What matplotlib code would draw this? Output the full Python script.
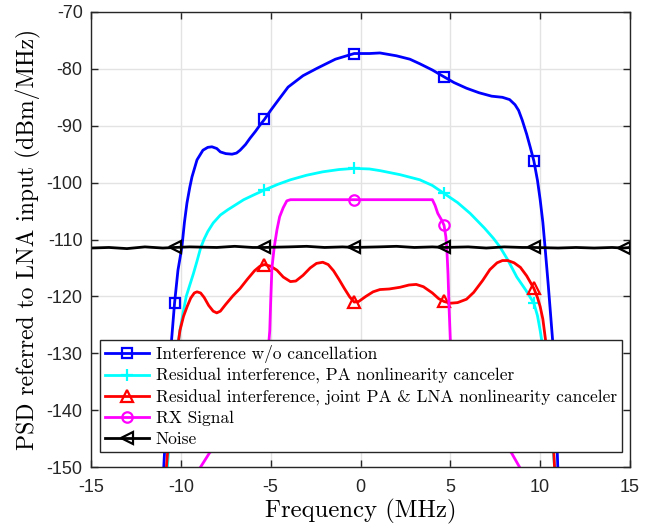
import matplotlib
matplotlib.use("Agg")
import matplotlib.pyplot as plt

# ---------------- data ----------------
blue_x = [-10.95, -10.75, -10.55, -10.35, -10.16, -9.94, -9.8, -9.66, -9.5, -9.38, -9.1, -8.77, -8.5, -8.27,
          -8.0, -7.8, -7.5, -7.15, -6.9, -6.7, -6.4, -6.15, -5.85, -5.6, -5.35, -5.0, -4.6, -4.03, -3.2,
          -2.42, -1.4, -0.35, 0.5, 1.08, 2.0, 2.75, 3.3, 4.0, 4.65, 5.2, 5.9, 6.6, 7.3, 7.9, 8.3, 8.6,
          8.8, 9.0, 9.25, 9.45, 9.65, 9.85, 10.0, 10.15, 10.27, 10.45, 10.6, 10.7, 10.85, 10.98]
blue_y = [-150, -138, -129, -121.2, -115.4, -111.3, -107, -103.6, -100.8, -99, -96, -94.3, -93.8, -93.7,
          -94.0, -94.6, -94.9, -95.0, -94.8, -94.3, -93.3, -92.2, -91.0, -89.9, -88.9, -87.3, -85.6, -83.2, -81.2,
          -79.9, -78.3, -77.3, -77.3, -77.2, -77.7, -78.3, -79.1, -80.2, -81.4, -82.4, -83.4, -84.2, -84.8, -85.0, -85.4, -86.3,
          -87.3, -89.0, -91.5, -93.8, -96.2, -99.6, -103, -107, -111.3, -118, -124, -128, -138, -150]

cyan_x = [-10.75, -10.55, -10.35, -10.2, -10.05, -9.85, -9.7, -9.5, -9.3, -9.1, -8.9, -8.7, -8.5, -8.2,
          -7.8, -7.4, -6.9, -6.5, -5.9, -5.35, -4.6, -3.9, -3.0, -2.1, -1.2, -0.35, 0.5, 1.1, 2.2, 3.3,
          4.0, 4.65, 5.4, 6.1, 6.9, 7.4, 7.76, 8.2, 8.7, 9.2, 9.65, 9.85, 10.0, 10.2, 10.4, 10.6, 10.8]
cyan_y = [-150, -142, -134, -129.5, -126, -122.5, -120, -118, -116, -113.8, -111.5, -109.9, -108.6, -107.1,
          -105.7, -104.8, -103.8, -103, -102.1, -101.3, -100.3, -99.5, -98.7, -98.1, -97.7, -97.5, -97.6, -97.9, -98.6, -99.5,
          -100.5, -101.9, -103.5, -105.4, -108, -109.8, -111.3, -113.6, -116.6, -118.9, -121.2, -123.4, -126, -130, -135, -142, -150]

red_x = [-10.8, -10.6, -10.35, -10.2, -10.05, -9.85, -9.65, -9.45, -9.25, -9.1, -8.9, -8.7, -8.45, -8.2,
         -8.0, -7.8, -7.5, -7.1, -6.7, -6.3, -5.9, -5.6, -5.35, -5.0, -4.65, -4.3, -3.9, -3.6, -3.2,
         -2.8, -2.45, -2.1, -1.8, -1.5, -1.2, -0.9, -0.6, -0.35, -0.1, 0.3, 0.7, 1.08, 1.6, 2.2, 2.7,
         3.1, 3.5, 4.0, 4.35, 4.65, 5.0, 5.4, 5.9, 6.3, 6.8, 7.2, 7.6, 7.9, 8.2, 8.55, 8.9, 9.25,
         9.65, 9.85, 10.0, 10.15, 10.3, 10.45, 10.6, 10.8]
red_y = [-150, -142, -134, -129.5, -126, -123.5, -121.8, -120.3, -119.4, -119.2, -119.4, -120.2, -121.6, -122.6,
         -122.9, -122.6, -121.4, -119.9, -118.6, -117.0, -115.5, -114.7, -114.4, -114.7, -115.4, -116.6, -117.4, -117.3, -116.3,
         -115.0, -114.2, -114.0, -114.4, -115.5, -117.0, -118.6, -120.1, -121.0, -120.9, -120.0, -119.2, -118.8, -118.7, -118.4, -118.0,
         -117.9, -118.3, -119.4, -120.4, -120.9, -121.2, -121.1, -120.5, -119.3, -117.2, -115.3, -114.1, -113.7, -113.7, -114.1, -114.9, -116.4,
         -118.6, -120.2, -121.8, -124, -127.7, -132, -138, -150]

mag_x = [-8.9, -8.4, -7.5, -6.5, -5.6, -5.35, -5.2, -5.05, -5.0, -4.93, -4.8, -4.65, -4.5, -4.3, -4.1,
         -3.9, -2.0, -0.35, 2.0, 4.0, 4.15, 4.3, 4.5, 4.65, 4.75, 4.8, 4.87, 4.93, 5.0, 5.2, 5.6,
         6.5, 7.5, 8.4, 8.85]
mag_y = [-150, -147.5, -145, -141, -136, -134, -132, -126, -121, -115, -111.3, -108.3, -106, -104.4, -103.2,
         -103, -103, -103, -103, -103, -104, -105.4, -106.5, -107.5, -109.5, -111.3, -116, -122, -127.7, -132, -136,
         -141, -145, -147.5, -150]

noise_x = [-15, -14, -13, -12, -11, -10.35, -9.5, -8, -7, -6, -5.35, -4, -3, -2, -1, -0.35,
           1, 2, 3, 4, 4.65, 6, 7, 8, 9, 9.65, 11, 12, 13, 14, 14.65, 15]
noise_y = [-111.5, -111.4, -111.6, -111.3, -111.5, -111.4, -111.3, -111.4, -111.2, -111.4, -111.4, -111.3,
           -111.2, -111.4, -111.3, -111.4, -111.3, -111.2, -111.4, -111.3, -111.4, -111.3, -111.5, -111.3,
           -111.4, -111.4, -111.5, -111.4, -111.5, -111.4, -111.5, -111.4]

marker_x = [-10.35, -5.35, -0.35, 4.65, 9.65, 14.65]

labels = ["Interference w/o cancellation",
          "Residual interference, PA nonlinearity canceler",
          "Residual interference, joint PA & LNA nonlinearity canceler",
          "RX Signal",
          "Noise"]

x_ticks = [-15, -10, -5, 0, 5, 10, 15]
y_ticks = [-150, -140, -130, -120, -110, -100, -90, -80, -70]
x_label = "Frequency (MHz)"
y_label = "PSD referred to LNA input (dBm/MHz)"

# ---------------- plot ----------------
def mk_idx(xs):
    return [i for i, v in enumerate(xs) if v in marker_x]

fig = plt.figure(figsize=(6.5, 5.27), dpi=100)
ax = fig.add_axes([91 / 650, 1 - 467 / 527, 539 / 650, 455 / 527])

series = [
    (blue_x, blue_y, "#0000ff", "s", 7, labels[0]),
    (cyan_x, cyan_y, "#00ffff", "+", 9, labels[1]),
    (red_x, red_y, "#ff0000", "^", 9, labels[2]),
    (mag_x, mag_y, "#ff00ff", "o", 7.5, labels[3]),
    (noise_x, noise_y, "#000000", "<", 9, labels[4]),
]
for xs, ys, c, m, ms, lab in series:
    ax.plot(xs, ys, color=c, lw=2, marker=m, ms=ms, mfc="none", mew=1.6,
            markevery=mk_idx(xs), label=lab, solid_joinstyle="round")

ax.set_xlim(-15, 15)
ax.set_ylim(-150, -70)
ax.set_xticks(x_ticks)
ax.set_yticks(y_ticks)
ax.set_xticklabels([str(t) for t in x_ticks], fontfamily="Liberation Sans", fontsize=13)
ax.set_yticklabels([str(t) for t in y_ticks], fontfamily="Liberation Sans", fontsize=13)
ax.grid(True, color="#e3e3e3", lw=1)
ax.set_axisbelow(True)
ax.tick_params(direction="in", top=True, right=True, length=5, width=1, colors="#262626")
ax.tick_params(axis="x", pad=9)
ax.tick_params(axis="y", pad=6)
for s in ax.spines.values():
    s.set_color("#262626")
    s.set_linewidth(1)

ax.set_xlabel(x_label, fontfamily="cmr10", fontsize=17.8, labelpad=2)
ax.set_ylabel(y_label, fontfamily="cmr10", fontsize=17, labelpad=4)

leg = ax.legend(loc="lower left", bbox_to_anchor=(0.0167, 0.033), borderaxespad=0,
                prop={"family": "cmr10", "size": 12.5}, fancybox=False, framealpha=1,
                edgecolor="#262626", handlelength=2.5, handletextpad=0.4, labelspacing=0.3,
                borderpad=0.3)
leg.get_frame().set_linewidth(1)

fig.savefig("out.png", dpi=100)
